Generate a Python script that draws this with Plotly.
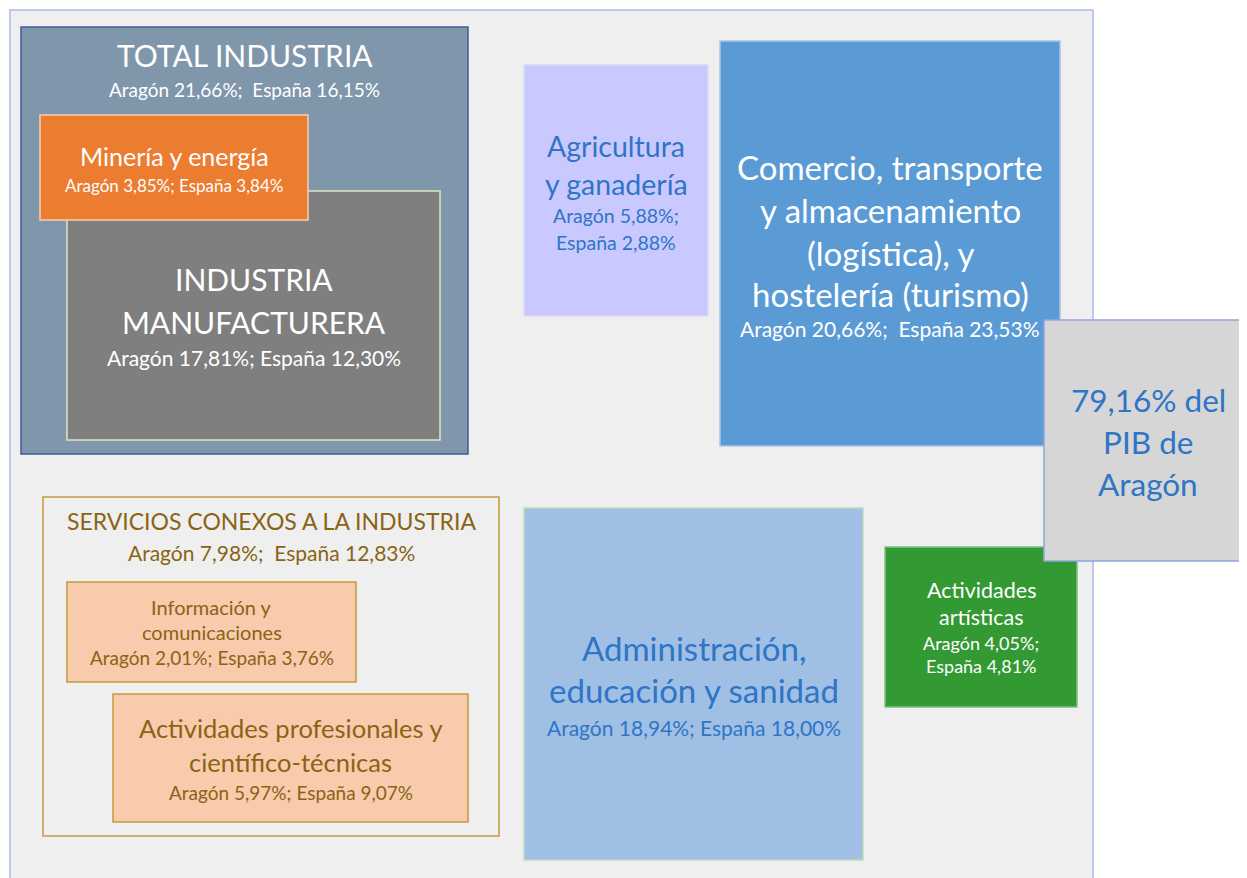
import plotly.graph_objects as go

# datos: peso de cada sector en el PIB (%)
sectores = ["Total industria", "Minería y energía", "Industria manufacturera",
            "Servicios conexos", "Información y comunicaciones",
            "Actividades profesionales", "Agricultura", "Comercio",
            "Administración", "Actividades artísticas"]
aragon = [21.66, 3.85, 17.81, 7.98, 2.01, 5.97, 5.88, 20.66, 18.94, 4.05]
espana = [16.15, 3.84, 12.30, 12.83, 3.76, 9.07, 2.88, 23.53, 18.00, 4.81]
titulos = [["TOTAL INDUSTRIA"], ["Minería y energía"], ["INDUSTRIA", "MANUFACTURERA"],
           ["SERVICIOS CONEXOS A LA INDUSTRIA"], ["Información y", "comunicaciones"],
           ["Actividades profesionales y", "científico-técnicas"],
           ["Agricultura", "y ganadería"],
           ["Comercio, transporte", "y almacenamiento", "(logística), y", "hostelería (turismo)"],
           ["Administración,", "educación y sanidad"], ["Actividades", "artísticas"]]
pib_aragon = 79.16

W, H = 1247, 878
OFF = 8  # margen del body de la página
FONT = "Lato"

# aspecto de cada caja: x0, y0, x1, y1, relleno, borde, color texto,
# tamaño título, y de líneas de título, tamaño cifras, y de líneas de cifras
estilo = [
    dict(box=(21, 27, 468, 454), fill="#8096ab", line="#3f5b9a", tc="white",
         ts=30, ty=[55], vs=19, vy=[89], sep="  "),
    dict(box=(40, 115, 308, 220), fill="#ec7c30", line="#f6cfae", tc="white",
         ts=25, ty=[156], vs=17, vy=[185], sep=" "),
    dict(box=(67, 191, 440, 440), fill="#7f7f7f", line="#dde6c8", tc="white",
         ts=30, ty=[279, 322], vs=21, vy=[357], sep=" "),
    dict(box=(43, 497, 499, 836), fill="rgba(0,0,0,0)", line="#c49a3c", tc="#8a6414",
         ts=23, ty=[521], vs=21, vy=[552], sep="  "),
    dict(box=(67, 582, 356, 682), fill="#f8cbad", line="#c49a3c", tc="#8a6414",
         ts=20, ty=[607, 632], vs=19, vy=[657], sep=" "),
    dict(box=(113, 694, 468, 822), fill="#f8cbad", line="#c49a3c", tc="#8a6414",
         ts=25.5, ty=[728, 762], vs=19, vy=[792], sep=" "),
    dict(box=(524, 65, 708, 316), fill="#c9c9ff", line="#dcdcf6", tc="#2e75c6",
         ts=28.5, ty=[146, 184], vs=19.5, vy=[215, 242], sep=" "),
    dict(box=(720, 41, 1060, 446), fill="#5b9bd5", line="#a9c6e6", tc="white",
         ts=33, ty=[167, 210, 253, 294], vs=21, vy=[328], sep="  "),
    dict(box=(524, 508, 863, 860), fill="#9fbfe5", line="#c0dcc0", tc="#2e75c6",
         ts=33, ty=[648, 690], vs=21, vy=[727], sep=" "),
    dict(box=(885, 547, 1077, 707), fill="#339933", line="#80c080", tc="white",
         ts=21.5, ty=[590, 617], vs=18, vy=[643, 666], sep=" "),
]
# orden de dibujo (minería queda encima de la manufacturera)
orden = [0, 2, 1, 3, 4, 5, 6, 7, 8, 9]


def pct(v):
    return f"{v:.2f}".replace(".", ",") + "%"


fig = go.Figure()
shapes = [dict(type="rect", x0=10, y0=10, x1=1093, y1=H + 5,
               fillcolor="#efefef", line=dict(color="#a9bde8", width=1.5))]
annotations = []

for i in orden:
    st = estilo[i]
    x0, y0, x1, y1 = st["box"]
    shapes.append(dict(type="rect", x0=x0, y0=y0, x1=x1, y1=y1,
                       fillcolor=st["fill"], line=dict(color=st["line"], width=1.5)))
    cx = (x0 + x1) / 2
    for line, y in zip(titulos[i], st["ty"]):
        annotations.append(dict(x=cx, y=y, text=line, showarrow=False,
                                font=dict(family=FONT, size=st["ts"], color=st["tc"])))
    if len(st["vy"]) == 2:
        cifras = [f"Aragón {pct(aragon[i])};", f"España {pct(espana[i])}"]
    else:
        cifras = [f"Aragón {pct(aragon[i])};{st['sep']}España {pct(espana[i])}"]
    for line, y in zip(cifras, st["vy"]):
        annotations.append(dict(x=cx, y=y, text=line.replace("  ", "&nbsp; "),
                                showarrow=False,
                                font=dict(family=FONT, size=st["vs"], color=st["tc"])))

# caja resumen del PIB
shapes.append(dict(type="rect", x0=1044, y0=320, x1=1252, y1=561,
                   fillcolor="#d6d6d6", line=dict(color="#8fa7dd", width=1.5)))
for line, y in zip([f"{pct(pib_aragon)} del", "PIB de", "Aragón"], [400, 442, 484]):
    annotations.append(dict(x=1148, y=y, text=line, showarrow=False,
                            font=dict(family=FONT, size=31.5, color="#2e75c6")))

fig.update_layout(
    width=W - OFF, height=H - OFF, autosize=False,
    margin=dict(l=0, r=0, t=0, b=0),
    paper_bgcolor="white", plot_bgcolor="white",
    xaxis=dict(range=[OFF, W], visible=False, fixedrange=True),
    yaxis=dict(range=[H, OFF], visible=False, fixedrange=True),
    shapes=shapes, annotations=annotations, showlegend=False,
)

fig.write_html("out.html")
